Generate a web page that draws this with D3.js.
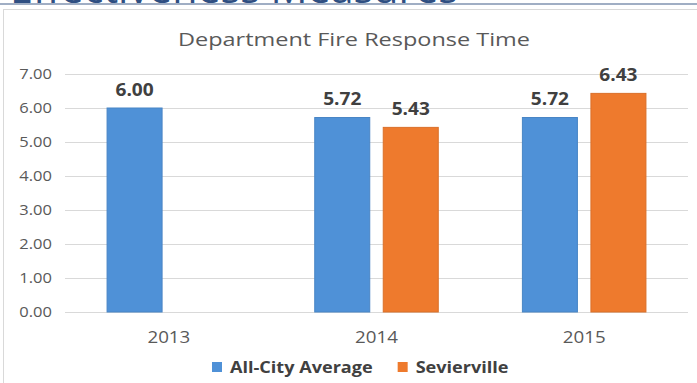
<!DOCTYPE html>
<html>
<head>
<meta charset="utf-8">
<script src="https://cdn.jsdelivr.net/npm/d3@7/dist/d3.min.js"></script>
<style>
  html, body { margin: 0; padding: 0; background: #ffffff; }
  svg { display: block; font-family: "Open Sans", "Noto Sans", sans-serif; }
</style>
</head>
<body>
<svg id="chart" width="697" height="383"></svg>
<script>
// Chart data
const years = ["2013", "2014", "2015"];
const seriesNames = ["All-City Average", "Sevierville"];
const allCityAverage = [6.00, 5.72, 5.72];
const sevierville = [null, 5.43, 6.43];
const yTicks = [0, 1, 2, 3, 4, 5, 6, 7];
const pageHeading = "Effectiveness Measures";
const chartTitle = "Department Fire Response Time";

const colors = ["#4f91d7", "#ee7a2d"];
const svg = d3.select("#chart");

// stretch text horizontally by factor k (glyphs are rendered a bit wide);
// returns the widened length of the last node
function widen(sel, k) {
  let len = 0;
  sel.each(function () {
    len = this.getComputedTextLength() * k;
    this.setAttribute("textLength", len.toFixed(2));
    this.setAttribute("lengthAdjust", "spacingAndGlyphs");
  });
  return len;
}

// page heading (cut off at the top) and its rule
svg.append("line")
  .attr("x1", 0).attr("x2", 697).attr("y1", 4).attr("y2", 4)
  .attr("stroke", "#8093b0").attr("stroke-width", 1.5);
svg.append("text")
  .attr("x", 10).attr("y", 3)
  .attr("font-size", 40)
  .attr("fill", "#2f4f82")
  .attr("textLength", 448).attr("lengthAdjust", "spacingAndGlyphs")
  .text(pageHeading);

// chart frame
svg.append("rect")
  .attr("x", 3.5).attr("y", 9.5).attr("width", 760).attr("height", 420)
  .attr("fill", "#ffffff").attr("stroke", "#d9d9d9").attr("stroke-width", 1);

// scales
const x = d3.scaleBand().domain(years).range([65, 688]).paddingInner(0).paddingOuter(0);
const xs = d3.scaleBand().domain(seriesNames).range([0, x.bandwidth()])
  .paddingInner(0.197).paddingOuter(0.614);
const y = d3.scaleLinear().domain([0, 7]).range([312, 74]);

// title
svg.append("text")
  .attr("x", 354).attr("y", 46)
  .attr("text-anchor", "middle")
  .attr("font-size", 18)
  .attr("fill", "#595959")
  .attr("textLength", 352).attr("lengthAdjust", "spacingAndGlyphs")
  .text(chartTitle);

// gridlines
svg.append("g")
  .selectAll("line")
  .data(yTicks)
  .join("line")
  .attr("x1", 65).attr("x2", 688)
  .attr("y1", d => Math.round(y(d)) + 0.5).attr("y2", d => Math.round(y(d)) + 0.5)
  .attr("stroke", "#d9d9d9").attr("stroke-width", 1);

// y axis labels
const yAxis = svg.append("g")
  .attr("transform", "translate(65,0)")
  .call(d3.axisLeft(y).tickValues(yTicks).tickFormat(d3.format(".2f")).tickSize(0).tickPadding(13));
yAxis.select(".domain").remove();
yAxis.selectAll("text")
  .attr("font-family", "'Open Sans', sans-serif")
  .attr("font-size", 14)
  .attr("fill", "#595959");
widen(yAxis.selectAll("text"), 1.18);

// x axis labels
const xAxis = svg.append("g")
  .attr("transform", "translate(0,312)")
  .call(d3.axisBottom(x).tickSize(0));
xAxis.select(".domain").remove();
xAxis.selectAll("text")
  .attr("y", 31).attr("dy", 0)
  .attr("font-family", "'Open Sans', sans-serif")
  .attr("font-size", 16)
  .attr("fill", "#595959");
widen(xAxis.selectAll("text"), 1.17);

// bars
const rows = years.map((yr, i) => ({
  year: yr,
  values: [
    { series: seriesNames[0], value: allCityAverage[i], color: colors[0] },
    { series: seriesNames[1], value: sevierville[i], color: colors[1] }
  ].filter(d => d.value != null)
}));

const groups = svg.append("g")
  .selectAll("g")
  .data(rows)
  .join("g")
  .attr("transform", d => `translate(${x(d.year)},0)`);

groups.selectAll("rect")
  .data(d => d.values)
  .join("rect")
  .attr("x", d => xs(d.series))
  .attr("y", d => y(d.value))
  .attr("width", xs.bandwidth())
  .attr("height", d => y(0) - y(d.value))
  .attr("fill", d => d.color)
  .attr("stroke", d => d3.color(d.color).darker(0.25))
  .attr("stroke-width", 1);

const valueLabels = groups.selectAll("text")
  .data(d => d.values)
  .join("text")
  .attr("x", d => xs(d.series) + xs.bandwidth() / 2)
  .attr("y", d => y(d.value) - 12.5)
  .attr("text-anchor", "middle")
  .attr("font-size", 18)
  .attr("font-weight", "bold")
  .attr("fill", "#404040")
  .text(d => d3.format(".2f")(d.value));
widen(valueLabels, 1.06);

// legend
const legend = svg.append("g").attr("transform", "translate(212,0)");
let lx = 0;
seriesNames.forEach((name, i) => {
  const item = legend.append("g").attr("transform", `translate(${lx},0)`);
  item.append("rect")
    .attr("x", 0).attr("y", 362).attr("width", 10).attr("height", 10)
    .attr("fill", colors[i]);
  const t = item.append("text")
    .attr("x", 18).attr("y", 373)
    .attr("font-size", 16)
    .attr("font-weight", "bold")
    .attr("fill", "#404040")
    .text(name);
  const w = widen(t, 1.13);
  lx += 18 + w + 25;
});
</script>
</body>
</html>
